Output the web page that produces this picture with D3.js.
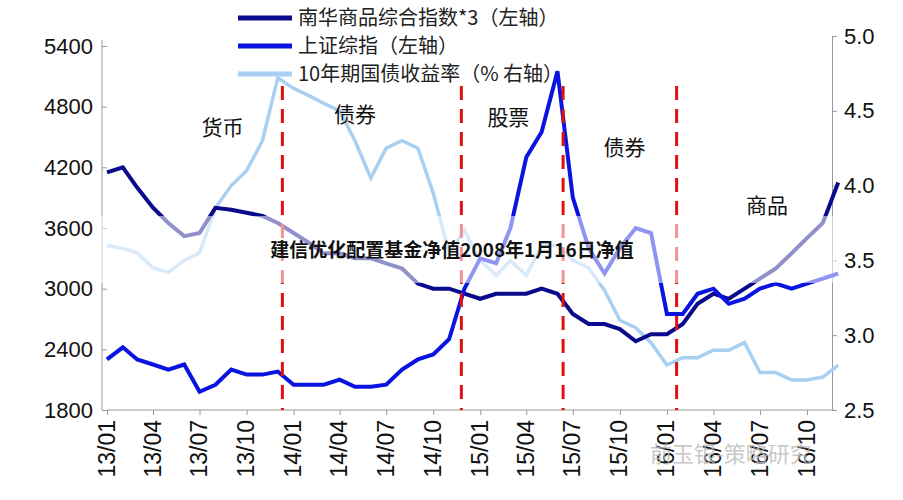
<!DOCTYPE html>
<html><head><meta charset="utf-8">
<script src="https://cdn.jsdelivr.net/npm/d3@7"></script>
<style>body{margin:0;background:#fff}</style>
</head><body><div id="chart"></div>
<script>
// monthly points, 13/01 .. 16/12
const months = d3.range(0, 48).map(i => new Date(2013, i, 1));
const shIndex = [2300,2420,2300,2250,2200,2250,1980,2050,2200,2150,2150,2180,
  2050,2050,2050,2100,2030,2030,2050,2200,2300,2350,2500,3000,
  3300,3250,3600,4300,4550,5150,3900,3400,3150,3400,3600,3550,
  2750,2750,2950,3000,2850,2900,3000,3050,3000,3050,3100,3150];
const nanhua = [4150,4200,4000,3800,3650,3520,3550,3800,3780,3750,3720,3650,
  3550,3450,3350,3350,3300,3300,3250,3200,3050,3000,3000,2950,
  2900,2950,2950,2950,3000,2950,2750,2650,2650,2600,2480,2550,
  2550,2650,2850,2950,2900,3000,3100,3200,3350,3500,3650,4050];
const bondYield = [3.6,3.58,3.55,3.45,3.42,3.5,3.55,3.85,4.0,4.1,4.3,4.72,
  4.65,4.6,4.55,4.5,4.3,4.05,4.25,4.3,4.25,3.95,3.55,3.7,
  3.5,3.4,3.5,3.4,3.6,3.6,3.5,3.45,3.3,3.1,3.05,2.95,
  2.8,2.85,2.85,2.9,2.9,2.95,2.75,2.75,2.7,2.7,2.72,2.8];
const leftTicks = [1800,2400,3000,3600,4200,4800,5400];
const rightTicks = [2.5,3.0,3.5,4.0,4.5,5.0];
const tickDates = d3.range(0, 46, 3).map(i => new Date(2013, i, 1));
const phaseDates = [new Date(2013,11,10), new Date(2014,10,25), new Date(2015,5,12), new Date(2016,0,20)];
const phases = [["货币",new Date(2013,7,15),135],["债券",new Date(2014,4,1),122],["股票",new Date(2015,1,25),125],
  ["债券",new Date(2015,9,10),155],["商品",new Date(2016,6,15),213]];
const legend = [["南华商品综合指数*3（左轴）","#0a0a8c"],["上证综指（左轴）","#0a14e0"],["10年期国债收益率（%  右轴）","#a8d0f2"]];

const W = 903, H = 500;
const svg = d3.select("#chart").append("svg").attr("width", W).attr("height", H)
  .style("font-family", "Liberation Sans, Arial, sans-serif");

let x = d3.scaleTime().domain([new Date(2013,0,1), new Date(2016,9,1)]).range([107, 807]);
let yL = d3.scaleLinear().domain([1800, 5400]).range([410, 46]);
let yR = d3.scaleLinear().domain([2.5, 5.0]).range([410, 36]);

// axes
let ax = svg.append("g").attr("transform", "translate(107,0)")
  .call(d3.axisLeft(yL).tickValues(leftTicks).tickFormat(d3.format("d")).tickSize(5));
ax.select(".domain").attr("d", "M-5,40V410");
let axR = svg.append("g").attr("transform", "translate(832,0)").call(d3.axisRight(yR).tickValues(rightTicks).tickFormat(d3.format(".1f")).tickSize(5));
let axB = svg.append("g").attr("transform", "translate(0,410)")
  .call(d3.axisBottom(x).tickValues(tickDates).tickFormat(d3.timeFormat("%y/%m")).tickSize(5));
axB.select(".domain").attr("d", "M107,0H832");
[ax, axR, axB].forEach(a => {
  a.selectAll(".domain, line").attr("stroke", "#999");
  a.selectAll("text").attr("font-size", 22).attr("fill", "#111");
});
axB.selectAll("text").attr("transform", "rotate(-90)").attr("x", -10).attr("y", -1)
  .attr("dy", "0.35em").style("text-anchor", "end").attr("font-size", 23);
ax.selectAll("text").attr("x", -14);
axR.selectAll("text").attr("x", 12);

// lines
let lineL = d3.line().x((d, i) => x(months[i])).y(d => yL(d));
let lineR = d3.line().x((d, i) => x(months[i])).y(d => yR(d));
svg.append("path").datum(bondYield).attr("d", lineR).attr("fill", "none").attr("stroke", "#a8d0f2").attr("stroke-width", 3.5);
svg.append("path").datum(nanhua).attr("d", lineL).attr("fill", "none").attr("stroke", "#0a0a8c").attr("stroke-width", 4);
svg.append("path").datum(shIndex).attr("d", lineL).attr("fill", "none").attr("stroke", "#0a14e0").attr("stroke-width", 4);

// phase dividers
svg.selectAll(".phase").data(phaseDates).enter().append("line")
  .attr("x1", d => x(d)).attr("x2", d => x(d)).attr("y1", 86).attr("y2", 410)
  .attr("stroke", "#e01010").attr("stroke-width", 3).attr("stroke-dasharray", "14,9");

svg.selectAll(".plabel").data(phases).enter().append("text")
  .attr("x", d => x(d[1])).attr("y", d => d[2]).attr("text-anchor", "middle")
  .attr("font-family", "Noto Sans CJK SC").attr("font-size", 21).attr("fill", "#111").text(d => d[0]);

// legend
legend.forEach((d, i) => {
  let yy = 18 + i * 28;
  svg.append("line").attr("x1", 238).attr("x2", 292).attr("y1", yy).attr("y2", yy)
    .attr("stroke", d[1]).attr("stroke-width", 5);
  svg.append("text").attr("x", 298).attr("y", yy + 7).attr("font-family", "Noto Sans CJK SC")
    .attr("font-size", 20).attr("fill", "#222").text(d[0]);
});

// overlay band with title
svg.append("rect").attr("x", 100).attr("y", 216).attr("width", 740).attr("height", 67)
  .attr("fill", "#fff").attr("opacity", 0.55);
svg.append("text").attr("x", 452).attr("y", 257).attr("text-anchor", "middle")
  .attr("font-family", "Noto Sans CJK SC").attr("font-weight", "bold").attr("font-size", 19)
  .attr("fill", "#111").text("建信优化配置基金净值2008年1月16日净值");

// watermark
svg.append("text").attr("x", 650).attr("y", 462).attr("font-family", "Noto Sans CJK SC")
  .attr("font-size", 22).attr("fill", "#bbb").attr("opacity", 0.8).text("前玉银-策略研究");
</script></body></html>
